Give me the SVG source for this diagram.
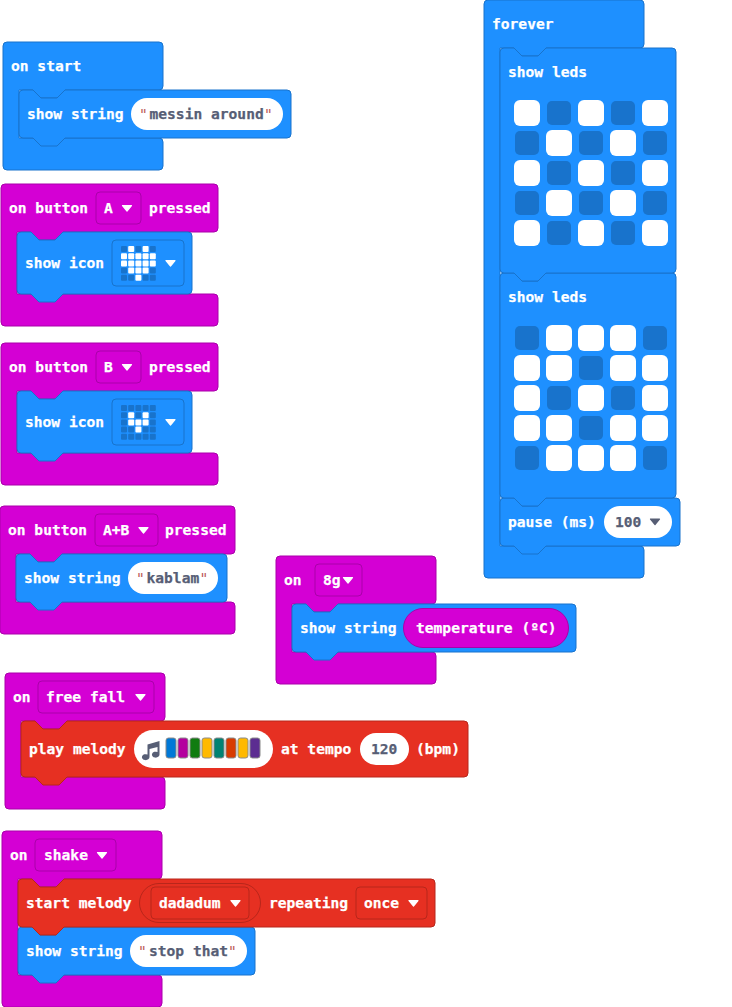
<svg xmlns="http://www.w3.org/2000/svg" width="732" height="1007" viewBox="0 0 732 1007">
<style>
text{font-family:"DejaVu Sans Mono","Liberation Mono",monospace;font-weight:700;font-size:14.6px;fill:#fff;stroke:#fff;stroke-width:.25px;white-space:pre}
.b{fill:#1e90ff;stroke:#1873cc;stroke-width:1}
.p{fill:#d400d4;stroke:#aa00aa;stroke-width:1}
.r{fill:#e63022;stroke:#b8261b;stroke-width:1}
.fp{fill:#d400d4;stroke:#aa00aa;stroke-width:1}
.fr{fill:#e63022;stroke:#b8261b;stroke-width:1}
.fb{fill:#1e90ff;stroke:#1873cc;stroke-width:1}
.pl{fill:#fff}
.g{fill:#575e75}
text.g{fill:#575e75;stroke:#575e75}
text.q{fill:#a31515;stroke:none;font-weight:400;fill-opacity:.75}
.ar{fill:#fff;stroke:#fff}
.ag{fill:#575e75;stroke:#575e75}
.sw{stroke:#8a8a8a;stroke-width:1}
</style>
<defs>
<path id="arrow" d="M0.500 0.500h9l-4.500 5.500z" stroke-linejoin="round" stroke-width="1.200"/>
<g id="led-on"><rect width="26" height="26" rx="6" fill="#fff"/></g>
<g id="led-off"><rect x="1" y="1" width="24" height="24" rx="5" fill="#1873cc"/></g>
<g id="mini-on"><rect width="6" height="6" rx="1" fill="#fff"/></g>
<g id="mini-off"><rect width="6" height="6" rx="1" fill="#1873cc"/></g>
</defs>

<g id="connectors"></g>

<g id="on-start">
<path class="b" d="M3 46a4 4 0 0 1 4-4H159a4 4 0 0 1 4 4V86a4 4 0 0 1-4 4H65l-8 8h-16l-8-8H19V138H159a4 4 0 0 1 4 4V166a4 4 0 0 1-4 4H7a4 4 0 0 1-4-4z"/>
<text x="11" y="71">on start</text>
<g id="show-string-1">
<path class="b" d="M19 94a4 4 0 0 1 4-4h10l8 8h16l8-8H287a4 4 0 0 1 4 4V134a4 4 0 0 1-4 4H65l-8 8h-16l-8-8H23a4 4 0 0 1-4-4z"/>
<text x="27" y="119">show string</text>
<rect class="pl" x="131" y="98" width="152" height="32" rx="16"/>
<text class="q" x="139" y="119">"</text><text class="g" x="149.500" y="119">messin around</text><text class="q" x="264" y="119">"</text>
</g>
</g>

<g id="on-button-a">
<path class="p" d="M1 188a4 4 0 0 1 4-4H214a4 4 0 0 1 4 4V228a4 4 0 0 1-4 4H63l-8 8h-16l-8-8H17V294H214a4 4 0 0 1 4 4V322a4 4 0 0 1-4 4H5a4 4 0 0 1-4-4z"/>
<text x="9" y="213">on button</text>
<rect class="fp" x="96" y="192" width="45" height="32" rx="4"/>
<text x="104" y="213">A</text><use href="#arrow" x="122" y="205" class="ar"/>
<text x="149" y="213">pressed</text>
<g id="show-icon-a">
<path class="b" d="M17 236a4 4 0 0 1 4-4h10l8 8h16l8-8H188a4 4 0 0 1 4 4V290a4 4 0 0 1-4 4H63l-8 8h-16l-8-8H21a4 4 0 0 1-4-4z"/>
<text x="25" y="268">show icon</text>
<rect class="fb" x="112" y="240" width="72" height="46" rx="4"/>
<use href="#mini-off" x="121" y="246"/><use href="#mini-on" x="128.200" y="246"/><use href="#mini-off" x="135.400" y="246"/><use href="#mini-on" x="142.600" y="246"/><use href="#mini-off" x="149.800" y="246"/>
<use href="#mini-on" x="121" y="253.200"/><use href="#mini-on" x="128.200" y="253.200"/><use href="#mini-on" x="135.400" y="253.200"/><use href="#mini-on" x="142.600" y="253.200"/><use href="#mini-on" x="149.800" y="253.200"/>
<use href="#mini-on" x="121" y="260.400"/><use href="#mini-on" x="128.200" y="260.400"/><use href="#mini-on" x="135.400" y="260.400"/><use href="#mini-on" x="142.600" y="260.400"/><use href="#mini-on" x="149.800" y="260.400"/>
<use href="#mini-off" x="121" y="267.600"/><use href="#mini-on" x="128.200" y="267.600"/><use href="#mini-on" x="135.400" y="267.600"/><use href="#mini-on" x="142.600" y="267.600"/><use href="#mini-off" x="149.800" y="267.600"/>
<use href="#mini-off" x="121" y="274.800"/><use href="#mini-off" x="128.200" y="274.800"/><use href="#mini-on" x="135.400" y="274.800"/><use href="#mini-off" x="142.600" y="274.800"/><use href="#mini-off" x="149.800" y="274.800"/>
<use href="#arrow" x="165.500" y="260" class="ar"/>
</g>
</g>

<g id="on-button-b">
<path class="p" d="M1 347a4 4 0 0 1 4-4H214a4 4 0 0 1 4 4V387a4 4 0 0 1-4 4H63l-8 8h-16l-8-8H17V453H214a4 4 0 0 1 4 4V481a4 4 0 0 1-4 4H5a4 4 0 0 1-4-4z"/>
<text x="9" y="372">on button</text>
<rect class="fp" x="96" y="351" width="45" height="32" rx="4"/>
<text x="104" y="372">B</text><use href="#arrow" x="122" y="364" class="ar"/>
<text x="149" y="372">pressed</text>
<g id="show-icon-b">
<path class="b" d="M17 395a4 4 0 0 1 4-4h10l8 8h16l8-8H188a4 4 0 0 1 4 4V449a4 4 0 0 1-4 4H63l-8 8h-16l-8-8H21a4 4 0 0 1-4-4z"/>
<text x="25" y="427">show icon</text>
<rect class="fb" x="112" y="399" width="72" height="46" rx="4"/>
<use href="#mini-off" x="121" y="405"/><use href="#mini-off" x="128.200" y="405"/><use href="#mini-off" x="135.400" y="405"/><use href="#mini-off" x="142.600" y="405"/><use href="#mini-off" x="149.800" y="405"/>
<use href="#mini-off" x="121" y="412.200"/><use href="#mini-on" x="128.200" y="412.200"/><use href="#mini-off" x="135.400" y="412.200"/><use href="#mini-on" x="142.600" y="412.200"/><use href="#mini-off" x="149.800" y="412.200"/>
<use href="#mini-off" x="121" y="419.400"/><use href="#mini-on" x="128.200" y="419.400"/><use href="#mini-on" x="135.400" y="419.400"/><use href="#mini-on" x="142.600" y="419.400"/><use href="#mini-off" x="149.800" y="419.400"/>
<use href="#mini-off" x="121" y="426.600"/><use href="#mini-off" x="128.200" y="426.600"/><use href="#mini-on" x="135.400" y="426.600"/><use href="#mini-off" x="142.600" y="426.600"/><use href="#mini-off" x="149.800" y="426.600"/>
<use href="#mini-off" x="121" y="433.800"/><use href="#mini-off" x="128.200" y="433.800"/><use href="#mini-off" x="135.400" y="433.800"/><use href="#mini-off" x="142.600" y="433.800"/><use href="#mini-off" x="149.800" y="433.800"/>
<use href="#arrow" x="165.500" y="419" class="ar"/>
</g>
</g>

<g id="on-button-ab">
<path class="p" d="M0 510a4 4 0 0 1 4-4H231a4 4 0 0 1 4 4V550a4 4 0 0 1-4 4H62l-8 8h-16l-8-8H16V602H231a4 4 0 0 1 4 4V630a4 4 0 0 1-4 4H4a4 4 0 0 1-4-4z"/>
<text x="8" y="535">on button</text>
<rect class="fp" x="95" y="514" width="63" height="32" rx="4"/>
<text x="103" y="535">A+B</text><use href="#arrow" x="138.500" y="527" class="ar"/>
<text x="165" y="535">pressed</text>
<g id="show-string-2">
<path class="b" d="M16 558a4 4 0 0 1 4-4h10l8 8h16l8-8H223a4 4 0 0 1 4 4V598a4 4 0 0 1-4 4H62l-8 8h-16l-8-8H20a4 4 0 0 1-4-4z"/>
<text x="24" y="583">show string</text>
<rect class="pl" x="128" y="562" width="90" height="32" rx="16"/>
<text class="q" x="136" y="583">"</text><text class="g" x="146.500" y="583">kablam</text><text class="q" x="199.500" y="583">"</text>
</g>
</g>

<g id="on-8g">
<path class="p" d="M276 560a4 4 0 0 1 4-4H432a4 4 0 0 1 4 4V600a4 4 0 0 1-4 4H338l-8 8h-16l-8-8H292V652H432a4 4 0 0 1 4 4V680a4 4 0 0 1-4 4H280a4 4 0 0 1-4-4z"/>
<text x="284" y="585">on</text>
<rect class="fp" x="315" y="564" width="47" height="32" rx="4"/>
<text x="323" y="585">8g</text><use href="#arrow" x="343" y="577" class="ar"/>
<g id="show-string-3">
<path class="b" d="M292 608a4 4 0 0 1 4-4h10l8 8h16l8-8H572a4 4 0 0 1 4 4V648a4 4 0 0 1-4 4H338l-8 8h-16l-8-8H296a4 4 0 0 1-4-4z"/>
<text x="300" y="633">show string</text>
<rect class="fp" x="403.500" y="608.500" width="165" height="39" rx="19.500"/>
<text x="416" y="633">temperature (ºC)</text>
</g>
</g>

<g id="on-free-fall">
<path class="p" d="M5 677a4 4 0 0 1 4-4H161a4 4 0 0 1 4 4V717a4 4 0 0 1-4 4H67l-8 8h-16l-8-8H21V777H161a4 4 0 0 1 4 4V805a4 4 0 0 1-4 4H9a4 4 0 0 1-4-4z"/>
<text x="13" y="702">on</text>
<rect class="fp" x="38" y="681" width="116" height="32" rx="4"/>
<text x="46" y="702">free fall</text><use href="#arrow" x="135.500" y="694" class="ar"/>
<g id="play-melody">
<path class="r" d="M21 725a4 4 0 0 1 4-4h10l8 8h16l8-8H464a4 4 0 0 1 4 4V773a4 4 0 0 1-4 4H67l-8 8h-16l-8-8H25a4 4 0 0 1-4-4z"/>
<text x="29" y="754">play melody</text>
<rect class="pl" x="134" y="730" width="139" height="38" rx="19"/>
<path class="g" d="M147.500 744.500L159.500 741V754.500A3.800 3 0 1 1 157.500 752V747L149.500 749V757A3.800 3 0 1 1 147.500 754.500z"/>
<rect class="sw" fill="#0078d7" x="166" y="738" width="10" height="20" rx="2.500"/>
<rect class="sw" fill="#b4009e" x="178" y="738" width="10" height="20" rx="2.500"/>
<rect class="sw" fill="#107c10" x="190" y="738" width="10" height="20" rx="2.500"/>
<rect class="sw" fill="#ffb900" x="202" y="738" width="10" height="20" rx="2.500"/>
<rect class="sw" fill="#008272" x="214" y="738" width="10" height="20" rx="2.500"/>
<rect class="sw" fill="#d83b01" x="226" y="738" width="10" height="20" rx="2.500"/>
<rect class="sw" fill="#ffb900" x="238" y="738" width="10" height="20" rx="2.500"/>
<rect class="sw" fill="#5c2d91" x="250" y="738" width="10" height="20" rx="2.500"/>
<text x="281" y="754">at tempo</text>
<rect class="pl" x="360" y="733" width="49" height="32" rx="16"/>
<text class="g" x="371" y="754">120</text>
<text x="416" y="754">(bpm)</text>
</g>
</g>

<g id="on-shake">
<path class="p" d="M2 835a4 4 0 0 1 4-4H158a4 4 0 0 1 4 4V875a4 4 0 0 1-4 4H64l-8 8h-16l-8-8H18V975H158a4 4 0 0 1 4 4V1003a4 4 0 0 1-4 4H6a4 4 0 0 1-4-4z"/>
<text x="10" y="860">on</text>
<rect class="fp" x="35" y="839" width="81" height="32" rx="4"/>
<text x="44" y="860">shake</text><use href="#arrow" x="97" y="852" class="ar"/>
<g id="show-string-4">
<path class="b" d="M18 931a4 4 0 0 1 4-4h10l8 8h16l8-8H251a4 4 0 0 1 4 4V971a4 4 0 0 1-4 4H64l-8 8h-16l-8-8H22a4 4 0 0 1-4-4z"/>
<text x="26" y="956">show string</text>
<rect class="pl" x="130" y="935" width="117" height="32" rx="16"/>
<text class="q" x="138" y="956">"</text><text class="g" x="149" y="956">stop that</text><text class="q" x="228" y="956">"</text>
</g>
<g id="start-melody">
<path class="r" d="M18 883a4 4 0 0 1 4-4h10l8 8h16l8-8H431a4 4 0 0 1 4 4V923a4 4 0 0 1-4 4H64l-8 8h-16l-8-8H22a4 4 0 0 1-4-4z"/>
<text x="26" y="908">start melody</text>
<rect class="fr" x="139.500" y="883.500" width="121" height="39" rx="19.500"/>
<rect class="fr" x="151" y="887" width="98" height="32" rx="4"/>
<text x="159" y="908">dadadum</text><use href="#arrow" x="230.500" y="900" class="ar"/>
<text x="269" y="908">repeating</text>
<rect class="fr" x="356" y="887" width="71" height="32" rx="4"/>
<text x="364" y="908">once</text><use href="#arrow" x="408.500" y="900" class="ar"/>
</g>
</g>

<g id="forever">
<path class="b" d="M484 4a4 4 0 0 1 4-4H640a4 4 0 0 1 4 4V44a4 4 0 0 1-4 4H546l-8 8h-16l-8-8H500V546H640a4 4 0 0 1 4 4V574a4 4 0 0 1-4 4H488a4 4 0 0 1-4-4z"/>
<text x="492" y="29">forever</text>
<g id="pause">
<path class="b" d="M500 502a4 4 0 0 1 4-4h10l8 8h16l8-8H676a4 4 0 0 1 4 4V542a4 4 0 0 1-4 4H546l-8 8h-16l-8-8H504a4 4 0 0 1-4-4z"/>
<text x="508" y="527">pause (ms)</text>
<rect class="pl" x="604" y="506" width="68" height="32" rx="16"/>
<text class="g" x="615" y="527">100</text><use href="#arrow" x="650" y="518.500" class="ag"/>
</g>
<g id="show-leds-2">
<path class="b" d="M500 277a4 4 0 0 1 4-4h10l8 8h16l8-8H672a4 4 0 0 1 4 4V494a4 4 0 0 1-4 4H546l-8 8h-16l-8-8H504a4 4 0 0 1-4-4z"/>
<text x="508" y="302">show leds</text>
<use href="#led-off" x="514" y="325"/><use href="#led-on" x="546" y="325"/><use href="#led-on" x="578" y="325"/><use href="#led-on" x="610" y="325"/><use href="#led-off" x="642" y="325"/>
<use href="#led-on" x="514" y="355"/><use href="#led-on" x="546" y="355"/><use href="#led-off" x="578" y="355"/><use href="#led-on" x="610" y="355"/><use href="#led-on" x="642" y="355"/>
<use href="#led-on" x="514" y="385"/><use href="#led-off" x="546" y="385"/><use href="#led-on" x="578" y="385"/><use href="#led-off" x="610" y="385"/><use href="#led-on" x="642" y="385"/>
<use href="#led-on" x="514" y="415"/><use href="#led-on" x="546" y="415"/><use href="#led-off" x="578" y="415"/><use href="#led-on" x="610" y="415"/><use href="#led-on" x="642" y="415"/>
<use href="#led-off" x="514" y="445"/><use href="#led-on" x="546" y="445"/><use href="#led-on" x="578" y="445"/><use href="#led-on" x="610" y="445"/><use href="#led-off" x="642" y="445"/>
</g>
<g id="show-leds-1">
<path class="b" d="M500 52a4 4 0 0 1 4-4h10l8 8h16l8-8H672a4 4 0 0 1 4 4V269a4 4 0 0 1-4 4H546l-8 8h-16l-8-8H504a4 4 0 0 1-4-4z"/>
<text x="508" y="77">show leds</text>
<use href="#led-on" x="514" y="100"/><use href="#led-off" x="546" y="100"/><use href="#led-on" x="578" y="100"/><use href="#led-off" x="610" y="100"/><use href="#led-on" x="642" y="100"/>
<use href="#led-off" x="514" y="130"/><use href="#led-on" x="546" y="130"/><use href="#led-off" x="578" y="130"/><use href="#led-on" x="610" y="130"/><use href="#led-off" x="642" y="130"/>
<use href="#led-on" x="514" y="160"/><use href="#led-off" x="546" y="160"/><use href="#led-on" x="578" y="160"/><use href="#led-off" x="610" y="160"/><use href="#led-on" x="642" y="160"/>
<use href="#led-off" x="514" y="190"/><use href="#led-on" x="546" y="190"/><use href="#led-off" x="578" y="190"/><use href="#led-on" x="610" y="190"/><use href="#led-off" x="642" y="190"/>
<use href="#led-on" x="514" y="220"/><use href="#led-off" x="546" y="220"/><use href="#led-on" x="578" y="220"/><use href="#led-off" x="610" y="220"/><use href="#led-on" x="642" y="220"/>
</g>
</g>
</svg>
